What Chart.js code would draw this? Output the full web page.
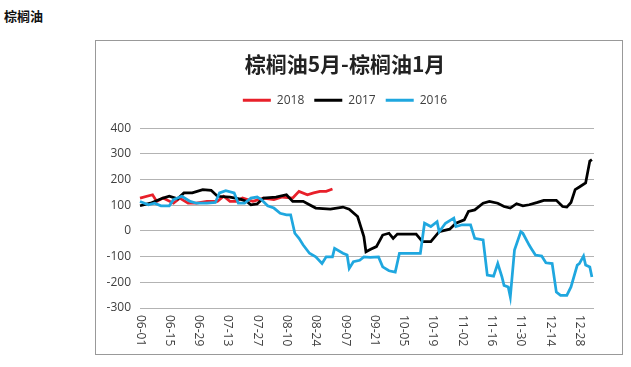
<!DOCTYPE html>
<html>
<head>
<meta charset="utf-8">
<script src="https://cdn.jsdelivr.net/npm/chart.js@4"></script>
<style>
  body { margin: 0; background: #fff; width: 631px; height: 367px; position: relative; overflow: hidden; }
  .page-title { position: absolute; left: 4px; top: 6px; font: bold 13px "Noto Sans CJK SC", sans-serif; color: #111; }
  .box { position: absolute; left: 95px; top: 40px; width: 528px; height: 315px; border: 1px solid #999; box-sizing: border-box; }
</style>
</head>
<body>
<div class="page-title">棕榈油</div>
<div class="box"><canvas id="myChart"></canvas></div>
<script>
// daily axis from 06-01, ticks shown every 14 days
const monthDays = [[6, 30], [7, 31], [8, 31], [9, 30], [10, 31], [11, 30], [12, 31], [1, 4]];
const days = [];
monthDays.forEach(([m, n]) => {
  for (let d = 1; d <= n; d++) days.push(String(m).padStart(2, '0') + '-' + String(d).padStart(2, '0'));
});
const tickLabels = ['06-01', '06-15', '06-29', '07-13', '07-27', '08-10', '08-24', '09-07',
  '09-21', '10-05', '10-19', '11-02', '11-16', '11-30', '12-14', '12-28'];
const yTicks = [-300, -200, -100, 0, 100, 200, 300, 400];

const s2018 = [
  ['06-01', 128], ['06-07', 141], ['06-09', 115], ['06-12', 128], ['06-17', 108], ['06-20', 128],
  ['06-24', 108], ['06-28', 108], ['07-03', 115], ['07-08', 115], ['07-11', 135], ['07-14', 115],
  ['07-17', 115], ['07-20', 128], ['07-25', 115], ['07-30', 128], ['08-04', 122], ['08-08', 132],
  ['08-13', 128], ['08-16', 154], ['08-20', 141], ['08-23', 148], ['08-26', 154], ['08-29', 154],
  ['09-01', 163]
];
const s2017 = [
  ['06-01', 98], ['06-06', 108], ['06-12', 128], ['06-15', 135], ['06-19', 125], ['06-22', 148],
  ['06-26', 148], ['07-01', 161], ['07-05', 158], ['07-08', 135], ['07-14', 132], ['07-19', 124],
  ['07-22', 115], ['07-24', 102], ['07-27', 105], ['07-30', 128], ['08-05', 132], ['08-10', 141],
  ['08-13', 115], ['08-18', 115], ['08-21', 102], ['08-24', 89], ['08-31', 85], ['09-06', 93],
  ['09-09', 85], ['09-13', 56], ['09-16', -22], ['09-17', -81], ['09-19', -72], ['09-22', -61],
  ['09-25', -16], ['09-28', -9], ['09-30', -29], ['10-02', -12], ['10-11', -12], ['10-14', -42],
  ['10-18', -42], ['10-22', -3], ['10-27', 7], ['10-30', 30], ['11-03', 43], ['11-05', 76],
  ['11-08', 82], ['11-12', 108], ['11-15', 115], ['11-19', 108], ['11-22', 95], ['11-25', 89],
  ['11-28', 106], ['12-01', 98], ['12-04', 102], ['12-08', 111], ['12-11', 119], ['12-17', 119],
  ['12-20', 95], ['12-22', 93], ['12-24', 111], ['12-26', 161], ['12-28', 171], ['12-31', 187],
  ['01-02', 272], ['01-03', 278]
];
const s2016 = [
  ['06-01', 115], ['06-05', 102], ['06-08', 108], ['06-11', 98], ['06-15', 98], ['06-17', 122],
  ['06-21', 135], ['06-25', 115], ['06-28', 108], ['07-03', 108], ['07-07', 111], ['07-09', 148],
  ['07-12', 157], ['07-16', 148], ['07-18', 108], ['07-21', 108], ['07-24', 128], ['07-27', 132],
  ['07-29', 122], ['08-01', 98], ['08-04', 89], ['08-07', 69], ['08-10', 63], ['08-12', 63],
  ['08-14', -9], ['08-16', -29], ['08-18', -55], ['08-21', -87], ['08-24', -101], ['08-27', -127],
  ['08-29', -101], ['09-01', -101], ['09-02', -68], ['09-06', -87], ['09-08', -94], ['09-09', -146],
  ['09-11', -120], ['09-14', -114], ['09-16', -101], ['09-19', -103], ['09-23', -101], ['09-25', -140],
  ['09-28', -155], ['10-01', -160], ['10-03', -87], ['10-08', -87], ['10-13', -87], ['10-15', 30],
  ['10-18', 17], ['10-21', 36], ['10-22', -3], ['10-25', 30], ['10-29', 50], ['10-30', 17],
  ['11-02', 24], ['11-06', 24], ['11-08', -29], ['11-12', -35], ['11-14', -172], ['11-17', -176],
  ['11-19', -127], ['11-21', -179], ['11-22', -212], ['11-24', -218], ['11-25', -257], ['11-27', -74],
  ['11-30', -3], ['12-01', -9], ['12-04', -55], ['12-05', -68], ['12-07', -94], ['12-10', -98],
  ['12-12', -124], ['12-15', -127], ['12-17', -238], ['12-19', -251], ['12-22', -251], ['12-24', -218],
  ['12-27', -133], ['12-28', -127], ['12-30', -98], ['12-31', -133], ['01-02', -140], ['01-03', -179]
];

const toPoints = arr => arr.map(([x, y]) => ({ x, y }));

// x labels read downward (rotated clockwise), so they are drawn here
const xLabels = {
  id: 'xLabels',
  afterDraw(chart) {
    const { ctx, scales: { x }, chartArea } = chart;
    ctx.save();
    ctx.font = '12px "Open Sans"';
    ctx.fillStyle = '#404040';
    ctx.textAlign = 'left';
    ctx.textBaseline = 'middle';
    tickLabels.forEach(lbl => {
      const px = x.getPixelForValue(days.indexOf(lbl));
      ctx.save();
      ctx.translate(px, chartArea.bottom + 7);
      ctx.rotate(Math.PI / 2);
      ctx.fillText(lbl, 0, 0);
      ctx.restore();
    });
    ctx.restore();
  }
};

const ctx = document.getElementById('myChart');

new Chart(ctx, {
  type: 'line',
  data: {
    labels: days,
    datasets: [
      { label: '2016', data: toPoints(s2016), borderColor: '#1fa7df', backgroundColor: '#1fa7df' },
      { label: '2017', data: toPoints(s2017), borderColor: '#000000', backgroundColor: '#000000' },
      { label: '2018', data: toPoints(s2018), borderColor: '#e8202a', backgroundColor: '#e8202a' }
    ]
  },
  options: {
    responsive: true,
    maintainAspectRatio: false,
    animation: false,
    events: [],
    layout: { padding: { left: 0, right: 28, top: 0, bottom: 0 } },
    elements: {
      line: { borderWidth: 2.75, tension: 0 },
      // radius 0 hides the points; borderWidth sets the legend line thickness
      point: { radius: 0, hoverRadius: 0, borderWidth: 3 }
    },
    plugins: {
      title: {
        display: true,
        text: '棕榈油5月-棕榈油1月',
        color: '#222',
        font: { family: '"Noto Sans CJK SC"', size: 21, weight: 'bold', lineHeight: 1.2 },
        padding: { top: 10, bottom: 8 }
      },
      legend: {
        display: true,
        reverse: true,
        weight: 1600,
        labels: {
          usePointStyle: true,
          pointStyle: 'line',
          pointStyleWidth: 28,
          color: '#404040',
          padding: 10,
          font: { family: '"Open Sans"', size: 12 }
        }
      },
      subtitle: {
        display: true,
        text: '',
        font: { size: 12, lineHeight: 1 },
        padding: 0
      },
      tooltip: { enabled: false }
    },
    scales: {
      x: {
        type: 'category',
        grid: { display: false },
        border: { display: false },
        ticks: { display: false },
        afterFit(scale) { scale.height = 46; }
      },
      y: {
        min: -300,
        max: 400,
        afterBuildTicks(scale) { scale.ticks = yTicks.map(v => ({ value: v })); },
        grid: { color: '#b3b3b3', drawTicks: false },
        border: { display: false },
        ticks: {
          padding: 9,
          color: '#404040',
          font: { family: '"Open Sans"', size: 12 }
        },
        afterFit(scale) { scale.width = 44; }
      }
    }
  },
  plugins: [xLabels]
});
</script>
</body>
</html>
